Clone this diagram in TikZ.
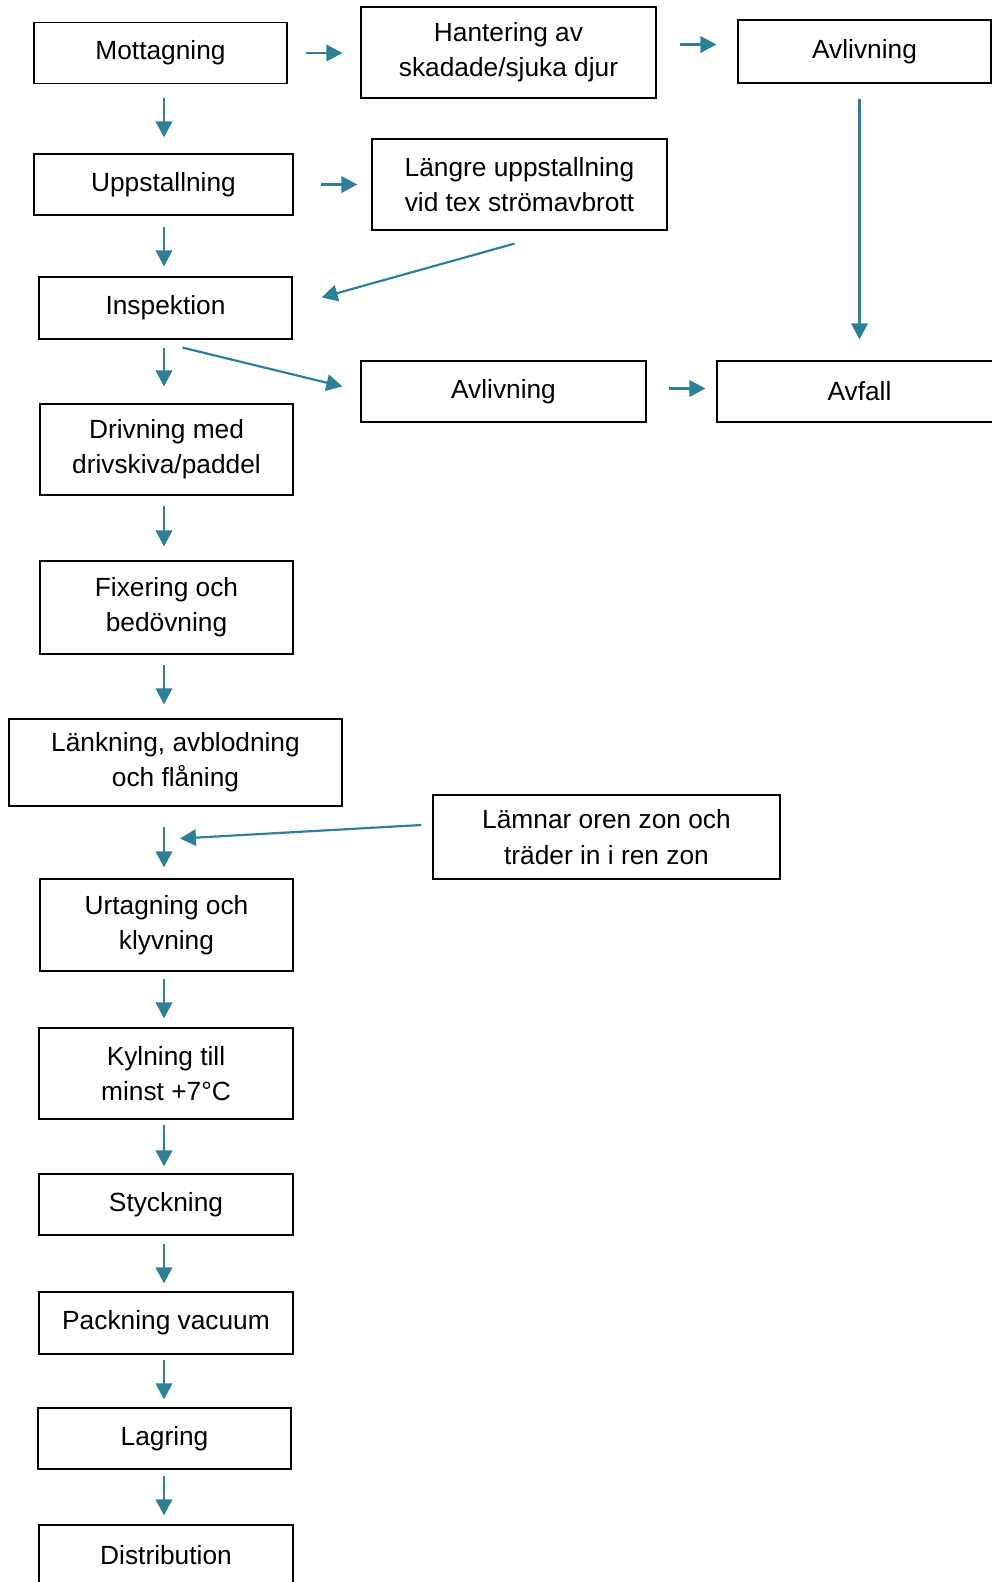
\documentclass[tikz,border=0pt]{standalone}
\usepackage{fontspec}
\setmainfont{Liberation Sans}
\usetikzlibrary{arrows.meta}
\definecolor{flowteal}{RGB}{46,128,152}

\begin{document}
\begin{tikzpicture}[x=1pt,y=-1pt,
        box/.style={draw=black, line width=1.2pt, minimum height=61pt, inner sep=0pt, align=center, font=\fontsize{26.3}{35.3}\selectfont},
        flow/.style={draw=flowteal, line width=2.2pt, -{Triangle[length=16pt,width=16.5pt]}}]
        \clip (0,0) rectangle (992,1582);

        \node[box, minimum width=253pt] (mott) at (160.5,53) {Mottagning};
        \node[box, minimum width=295pt, minimum height=91pt] (hant) at (508.5,52.5) {Hantering av\\skadade/sjuka djur};
        \node[box, minimum width=253pt, minimum height=63pt] (avlA) at (864.5,51.5) {Avlivning};
        \node[box, minimum width=259pt] (upp) at (163.5,184.5) {Uppstallning};
        \node[box, minimum width=295pt, minimum height=91pt] (lang) at (519.5,184.5) {Längre uppstallning\\vid tex strömavbrott};
        \node[box, minimum width=253pt, minimum height=62pt] (insp) at (165.5,308) {Inspektion};
        \node[box, minimum width=285pt] (avlB) at (503.5,391.5) {Avlivning};
        \node[box, minimum width=285pt] (avfall) at (859.5,391.5) {Avfall};
        \node[box, minimum width=253pt, minimum height=91pt] (driv) at (166.5,449.5) {Drivning med\\drivskiva/paddel};
        \node[box, minimum width=253pt, minimum height=93pt] (fix) at (166.5,607.5) {Fixering och\\bedövning};
        \node[box, minimum width=333pt, minimum height=87pt] (lank) at (175.5,762.5) {Länkning, avblodning\\och flåning};
        \node[box, minimum width=347pt, minimum height=84pt] (lamn) at (606.5,837) {Lämnar oren zon och\\träder in i ren zon};
        \node[box, minimum width=253pt, minimum height=92pt] (urt) at (166.5,925) {Urtagning och\\klyvning};
        \node[box, minimum width=254pt, minimum height=91pt] (kyl) at (166,1073.5) {Kylning till\\minst +7°C};
        \node[box, minimum width=254pt] (styck) at (166,1204.5) {Styckning};
        \node[box, minimum width=254pt, minimum height=62pt] (pack) at (166,1323) {Packning vacuum};
        \node[box, minimum width=253pt] (lag) at (164.5,1438.5) {Lagring};
        \node[box, minimum width=254pt] (dist) at (166,1555.5) {Distribution};

        \coordinate (spine) at (164,0);
        \coordinate (merge) at (180,838.5);

        \foreach \a/\b/\s/\e in {mott/upp/14pt/16pt, upp/insp/11pt/10pt, insp/driv/8pt/17pt, driv/fix/10pt/14pt, fix/lank/10pt/14pt, lank/urt/20pt/11pt, urt/kyl/7pt/9pt, kyl/styck/5pt/7pt, styck/pack/8pt/8pt, pack/lag/5pt/8pt, lag/dist/6pt/9pt} {
             \draw[flow, shorten <=\s, shorten >=\e] (\a.south -| spine) -- (\b.north -| spine);
        }

        \draw[flow, shorten <=18pt, shorten >=18pt] (mott.east) -- (mott.east -| hant.west);
        \draw[flow, shorten <=23pt, shorten >=21pt] ([yshift=8pt]hant.east) -- ([yshift=8pt]hant.east -| avlA.west);
        \draw[flow, shorten <=27pt, shorten >=14pt] (upp.east) -- (upp.east -| lang.west);
        \draw[flow] ([xshift=-5pt,yshift=-13pt]lang.south) -- ([xshift=29pt,yshift=10.5pt]insp.east);
        \draw[flow] ([xshift=17pt,yshift=-8pt]insp.south) -- ([xshift=-18pt,yshift=5pt]avlB.west);
        \draw[flow, shorten <=22pt, shorten >=11pt] ([yshift=3pt]avlB.east) -- ([yshift=3pt]avlB.east -| avfall.west);
        \draw[flow, shorten <=15pt, shorten >=21pt] (avfall.north |- avlA.south) -- (avfall.north);
        \draw[flow] ([xshift=-11pt,yshift=12pt]lamn.west) -- (merge);
    \end{tikzpicture}
\end{document}
